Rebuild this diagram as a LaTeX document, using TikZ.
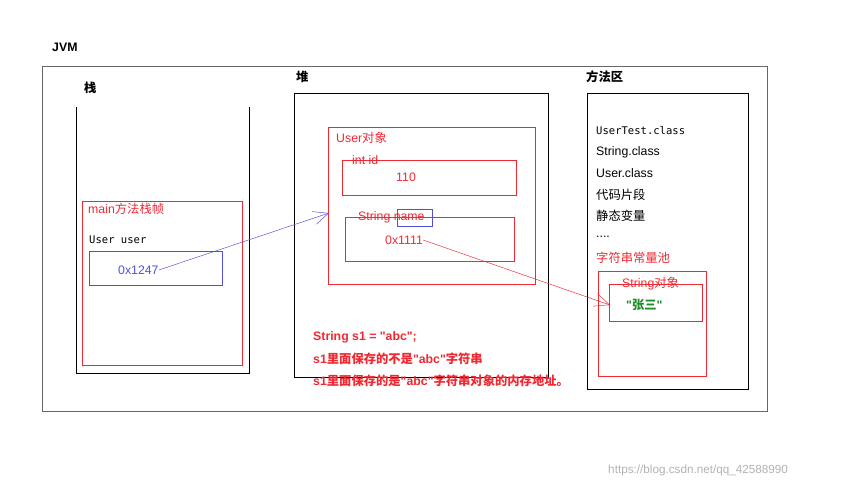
\documentclass[tikz,border=0pt]{standalone}
\usepackage{fontspec}
\setmainfont{Liberation Sans}[Ligatures=TeXOff]
\newfontfamily\cjk{Noto Sans CJK SC}
\setmonofont{DejaVu Sans Mono}
\usetikzlibrary{positioning,arrows.meta}
\definecolor{jred}{RGB}{240,40,50}
\definecolor{jblue}{RGB}{80,80,220}
\definecolor{jgreen}{RGB}{30,140,40}
\tikzset{
  txt/.style={inner sep=0pt,anchor=west,font=\fontsize{10.5}{12}\selectfont},
  redtxt/.style={txt,text=jred},
  redbox/.style={draw=jred,thin},
  title/.style={txt,font=\fontsize{10.5}{12}\selectfont\bfseries},
  ptr/.style={-{Straight Barb[length=4.5mm,width=4mm]}},
}
\begin{document}
\begin{tikzpicture}[x=0.03cm,y=-0.03cm]
    \useasboundingbox (0,0) rectangle (860,490);

    % JVM
    \node[title] (jvm) at (52,47) {JVM};
    \draw[gray!80!black] (42,66) rectangle (767,411);

    % Stack
    \node[title] (stacklbl) at (84,88) {\cjk 栈};
    \draw (76,107) -- (76,373) -- (249,373) -- (249,107);
    \draw[redbox] (82,201) rectangle (242,365);
    \node[redtxt] (mainlbl) at (88,209) {main{\cjk 方法栈帧}};
    \node[txt,font=\ttfamily\fontsize{9}{10}\selectfont] (userlbl) at (89,240) {User user};
    \draw[jblue] (89,251) rectangle (222,285);
    \node[txt,text=jblue] (ref) at (118,270) {0x1247};

    % Heap
    \node[title] (heaplbl) at (296,77) {\cjk 堆};
    \draw (294,93) rectangle (548,377);
    \draw[redbox] (328,127) rectangle (535,284);
    \coordinate (obj) at (329,213);
    \node[redtxt] (objlbl) at (336,138) {User{\cjk 对象}};
    \draw[redbox] (342,160) rectangle (516,195);
    \node[redtxt] (idlbl) at (352,160) {int id};
    \node[redtxt] (idval) at (396,177) {110};
    \draw[redbox] (345,217) rectangle (514,261);
    \draw[jblue] (397,209) rectangle (432,226);
    \node[redtxt] (namelbl) at (358,217) {String name};
    \node[redtxt] (nameval) at (385,240) {0x1111};

    \node[txt,text=jred,font=\fontsize{10.5}{12}\selectfont\bfseries] (s1) at (313,337) {String s1 = "abc";};
    \node[txt,text=jred,font=\fontsize{10.5}{12}\selectfont\bfseries] (s2) at (313,359) {s1{\cjk 里面保存的不是}"abc"{\cjk 字符串}};
    \node[txt,text=jred,font=\fontsize{10.5}{12}\selectfont\bfseries] (s3) at (313,381) {s1{\cjk 里面保存的是}"abc"{\cjk 字符串对象的内存地址。}};

    % Method area
    \node[title] (methlbl) at (586,77) {\cjk 方法区};
    \draw (587,93) rectangle (748,389);
    \node[txt,font=\ttfamily\fontsize{9}{10}\selectfont] (m1) at (596,131) {UserTest.class};
    \node[txt] (m2) at (596,152) {String.class};
    \node[txt] (m3) at (596,173) {User.class};
    \node[txt] (m4) at (596,195) {\cjk 代码片段};
    \node[txt] (m5) at (596,216) {\cjk 静态变量};
    \node[txt] (m6) at (596,237) {....};
    \node[redtxt] (pool) at (596,258) {\cjk 字符串常量池};
    \draw[redbox] (598,271) rectangle (706,376);
    \draw[redbox] (609,284) rectangle (702,321);
    \coordinate (strobj) at (610,305);
    \node[redtxt] (strlbl) at (622,284) {String{\cjk 对象}};
    \node[txt,text=jgreen,font=\fontsize{10.5}{12}\selectfont\bfseries] (zs) at (626,305) {"{\cjk 张三}"};

    % Pointers
    \draw[jblue,ptr] (ref.east) -- (obj);
    \draw[jred,ptr] (nameval.east) -- (strobj);

    \node[txt,text=gray!60,font=\fontsize{10}{11}\selectfont] (wm) at (608,470) {https://blog.csdn.net/qq\_42588990};

\end{tikzpicture}
\end{document}
